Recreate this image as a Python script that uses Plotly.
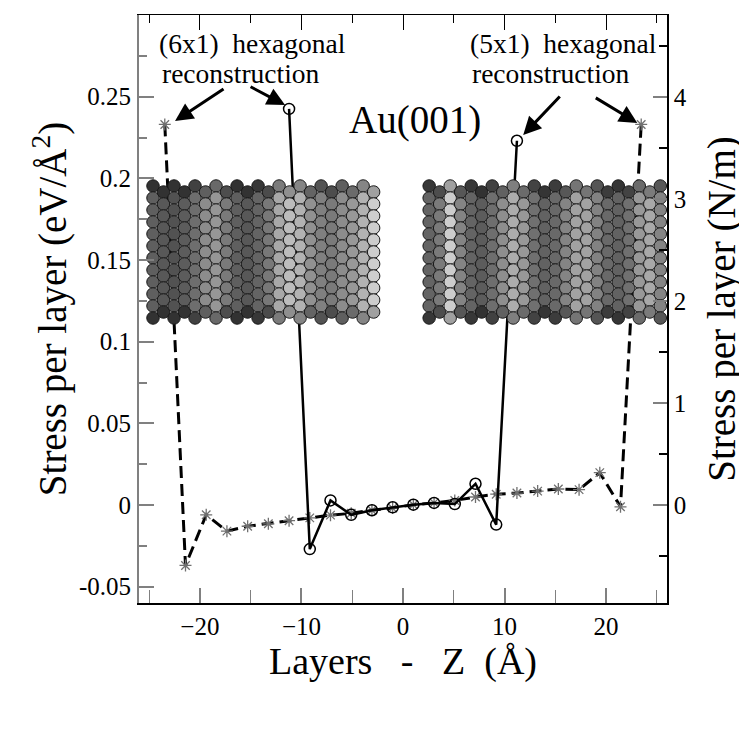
import plotly.graph_objects as go

# layer positions (Å) and stress per layer (eV/Å^2)
z_star = [-23.46, -21.42, -19.38, -17.34, -15.30, -13.26, -11.22, -9.18, -7.14, -5.10, -3.06, -1.02,
          1.02, 3.06, 5.10, 7.14, 9.18, 11.22, 13.26, 15.30, 17.34, 19.38, 21.42, 23.46]
s_star = [0.233, -0.037, -0.006, -0.016, -0.013, -0.0115, -0.0096, -0.0079, -0.0062, -0.0051, -0.0032, -0.0019,
          0.0002, 0.0013, 0.0028, 0.0049, 0.0066, 0.0073, 0.0085, 0.0098, 0.0094, 0.0198, -0.0011, 0.233]

z_circ = [-11.22, -9.18, -7.14, -5.10, -3.06, -1.02, 1.02, 3.06, 5.10, 7.14, 9.18, 11.22]
s_circ = [0.2425, -0.027, 0.0028, -0.006, -0.0032, -0.0014, 0.0002, 0.0013, 0.0006, 0.013, -0.012, 0.223]

# 1 eV/Å^2 in N/m
EV_A2_TO_NM = 16.02

x_ticks = [-20, -10, 0, 10, 20]
y_ticks = [-0.05, 0, 0.05, 0.1, 0.15, 0.2, 0.25]
y2_ticks = [0, 1, 2, 3, 4]

# grey level of each atom column in the two surface snapshots
left_cols = [95, 88, 82, 92, 110, 140, 150, 122, 95, 88, 100, 120, 168, 188, 178, 145, 128, 122, 140, 152, 178, 205]
right_cols = [100, 122, 205, 132, 100, 92, 110, 142, 172, 152, 112, 98, 105, 132, 162, 162, 130, 105, 98, 112, 152, 168, 132]

FONT = "Times New Roman, Liberation Serif, serif"
GREY = "#808080"

fig = go.Figure()

fig.add_trace(go.Scatter(
    x=z_star, y=s_star, mode="lines+markers",
    line=dict(color="black", width=3, dash="12px,6px"),
    marker=dict(symbol="asterisk-open", size=10, color="#707070", line=dict(width=1.3, color="#707070")),
    showlegend=False))

fig.add_trace(go.Scatter(
    x=z_circ, y=s_circ, mode="lines+markers",
    line=dict(color="black", width=2.5),
    marker=dict(symbol="circle-open", size=11, color="black", line=dict(width=1.5)),
    showlegend=False))


# atom pictures, drawn in pixel units on an overlay axis pair
def atoms(x0, y0, y1, shades, dx=10.5, dy=12.0):
    xs, ys, cs = [], [], []
    for c, g in enumerate(shades):
        x = x0 + 6 + c * dx
        y = y0 + 6 + (c % 2) * dy / 2
        r = 0
        while y <= y1 - 6:
            gg = g
            if r == 0 or y + dy > y1 - 6:
                gg = max(g - 45, 50)
            xs.append(x)
            ys.append(y)
            cs.append(f"rgb({gg},{gg},{gg})")
            y += dy
            r += 1
    return xs, ys, cs


for x0, shades in [(147, left_cols), (423, right_cols)]:
    ax_, ay_, ac_ = atoms(x0, 180, 326, shades)
    fig.add_trace(go.Scatter(
        x=ax_, y=ay_, mode="markers", xaxis="x3", yaxis="y3",
        marker=dict(symbol="circle", size=12.5, color=ac_, line=dict(width=1, color="#1a1a1a")),
        showlegend=False, hoverinfo="skip"))

# y2 carries the N/m scale
fig.add_trace(go.Scatter(x=[None], y=[None], yaxis="y2", xaxis="x2", showlegend=False))

x_range = [-26, 26]
y_range = [-0.06, 0.3]

# the page body adds an 8px margin, so the figure is 8px smaller and shifted
fig.update_layout(
    width=739, height=722,
    margin=dict(l=131, r=80, t=7, b=127),
    paper_bgcolor="white", plot_bgcolor="white",
    font=dict(family=FONT, size=25, color="black"),
    xaxis=dict(range=x_range, tickvals=x_ticks, ticks="inside", ticklen=15, tickwidth=1.5, tickcolor=GREY,
               minor=dict(dtick=5, tick0=-25, ticks="inside", ticklen=13, tickwidth=1, tickcolor=GREY),
               showline=True, linecolor="black", linewidth=1.5, showgrid=False, zeroline=False,
               ticklabelstandoff=0,
               title=dict(text="Layers\u00a0\u00a0\u00a0-\u00a0\u00a0\u00a0Z\u00a0\u00a0(Å)",
                          font=dict(size=38), standoff=6)),
    xaxis2=dict(range=x_range, overlaying="x", side="top", tickvals=x_ticks, ticks="inside", ticklen=15,
                tickcolor="black", showticklabels=False,
                minor=dict(dtick=5, tick0=-25, ticks="inside", ticklen=8, tickcolor="black"),
                showline=True, linecolor="black", linewidth=1, showgrid=False, zeroline=False),
    yaxis=dict(range=y_range, tickvals=y_ticks, ticktext=["-0.05", "0", "0.05", "0.1", "0.15", "0.2", "0.25"],
               ticks="inside", ticklen=15, tickwidth=1.5, tickcolor=GREY,
               minor=dict(dtick=0.025, tick0=0, ticks="inside", ticklen=8, tickwidth=1.5, tickcolor=GREY),
               showline=True, linecolor=GREY, linewidth=2, showgrid=False, zeroline=False,
               ticklabelstandoff=1,
               title=dict(text="Stress per layer (eV/Å<sup>2</sup>)", font=dict(size=39), standoff=0)),
    yaxis2=dict(range=[y_range[0] * EV_A2_TO_NM, y_range[1] * EV_A2_TO_NM], overlaying="y", side="right",
                tickvals=y2_ticks, ticks="inside", ticklen=14, tickwidth=1.5, tickcolor=GREY,
                minor=dict(dtick=0.5, tick0=0, ticks="inside", ticklen=8, tickcolor="black"),
                showline=True, linecolor="black", linewidth=1.5, showgrid=False, zeroline=False,
                ticklabelstandoff=0,
                title=dict(text="Stress per layer (N/m)", font=dict(size=39), standoff=22)),
    xaxis3=dict(range=[139, 666.7], overlaying="x", visible=False),
    yaxis3=dict(range=[603, 15], overlaying="y", visible=False),
)

# labels and arrows
labels = [
    ("(6x1)\u00a0\u00a0hexagonal", 252, 43),
    ("reconstruction", 241, 73),
    ("(5x1)\u00a0\u00a0hexagonal", 563, 43),
    ("reconstruction", 551, 73),
]
for txt, px, py in labels:
    fig.add_annotation(text=txt, x=px, y=py, xref="x3", yref="y3", showarrow=False,
                       font=dict(size=27.5, family=FONT))

fig.add_annotation(text="Au(001)", x=415, y=120, xref="x3", yref="y3", showarrow=False,
                   font=dict(size=39, family=FONT))

arrows = [  # head x, head y, tail offset (px)
    (175, 121, 50, -33),
    (285, 105, -36, -19),
    (523, 135, 38, -40),
    (637, 123, -43, -26),
]
for hx, hy, tx, ty in arrows:
    fig.add_annotation(x=hx, y=hy, xref="x3", yref="y3", ax=tx, ay=ty, text="",
                       showarrow=True, arrowhead=2, arrowsize=1.2, arrowwidth=3, arrowcolor="black")

fig.write_html("out.html")
